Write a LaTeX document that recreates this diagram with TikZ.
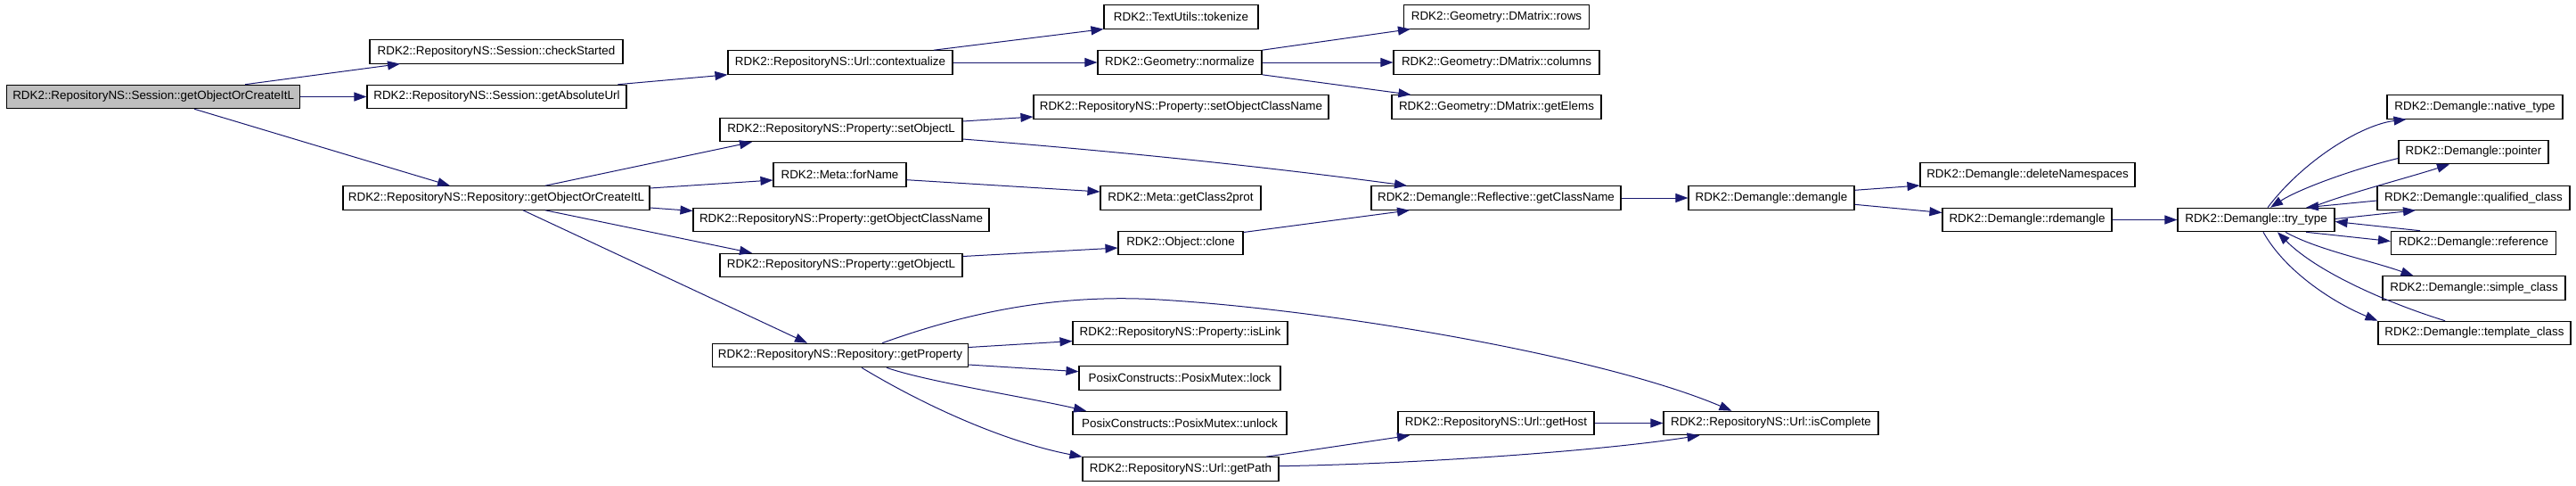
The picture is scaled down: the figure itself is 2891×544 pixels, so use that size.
\documentclass[tikz,border=0pt]{standalone}
\usepackage{fontspec}
\setmainfont{Liberation Sans}
\usetikzlibrary{arrows.meta}
\definecolor{edgeblue}{HTML}{191970}
\definecolor{rootgray}{HTML}{BFBFBF}
\begin{document}
\begin{tikzpicture}[x=1pt,y=-1pt,
  fn/.style={draw=black, line width=1.1pt, rectangle, minimum height=26.5pt, inner sep=2pt,
    font=\fontsize{13.4}{16}\selectfont, text=black},
  rootfn/.style={fn, fill=rootgray},
  e/.style={draw=edgeblue, line width=1.0pt, -{Triangle[length=14pt,width=10pt]}}]
\useasboundingbox (0,0) rectangle (2891,544);
\node[rootfn, minimum width=329pt] (root) at (172.2,108.5) {RDK2::RepositoryNS::Session::getObjectOrCreateItL};
\node[fn, minimum width=284pt] (checkStarted) at (557,57.8) {RDK2::RepositoryNS::Session::checkStarted};
\node[fn, minimum width=291pt] (getAbsUrl) at (557.5,108.5) {RDK2::RepositoryNS::Session::getAbsoluteUrl};
\node[fn, minimum width=344pt] (repoGet) at (557,222) {RDK2::RepositoryNS::Repository::getObjectOrCreateItL};
\node[fn, minimum width=173pt] (tokenize) at (1325.5,18.8) {RDK2::TextUtils::tokenize};
\node[fn, minimum width=252pt] (contextualize) at (943,70) {RDK2::RepositoryNS::Url::contextualize};
\node[fn, minimum width=184pt] (normalize) at (1324,70) {RDK2::Geometry::normalize};
\node[fn, minimum width=331pt] (setObjClassName) at (1325.5,120) {RDK2::RepositoryNS::Property::setObjectClassName};
\node[fn, minimum width=272pt] (setObjectL) at (944,145.5) {RDK2::RepositoryNS::Property::setObjectL};
\node[fn, minimum width=149pt] (forName) at (942.5,196) {RDK2::Meta::forName};
\node[fn, minimum width=180pt] (getClass2prot) at (1325,222) {RDK2::Meta::getClass2prot};
\node[fn, minimum width=332pt] (getObjClassName) at (944,246.5) {RDK2::RepositoryNS::Property::getObjectClassName};
\node[fn, minimum width=140pt] (clone) at (1325,272.5) {RDK2::Object::clone};
\node[fn, minimum width=272pt] (getObjectL) at (944,297.5) {RDK2::RepositoryNS::Property::getObjectL};
\node[fn, minimum width=287pt] (getProperty) at (943,398.5) {RDK2::RepositoryNS::Repository::getProperty};
\node[fn, minimum width=241pt] (isLink) at (1324.5,373.5) {RDK2::RepositoryNS::Property::isLink};
\node[fn, minimum width=226pt] (lock) at (1324,424) {PosixConstructs::PosixMutex::lock};
\node[fn, minimum width=240pt] (unlock) at (1324,474.5) {PosixConstructs::PosixMutex::unlock};
\node[fn, minimum width=220pt] (getPath) at (1325,526) {RDK2::RepositoryNS::Url::getPath};
\node[fn, minimum width=208pt] (rows) at (1679.5,18.8) {RDK2::Geometry::DMatrix::rows};
\node[fn, minimum width=231pt] (columns) at (1679.5,70) {RDK2::Geometry::DMatrix::columns};
\node[fn, minimum width=235pt] (getElems) at (1679.5,120) {RDK2::Geometry::DMatrix::getElems};
\node[fn, minimum width=280pt] (getClassName) at (1679,222) {RDK2::Demangle::Reflective::getClassName};
\node[fn, minimum width=186pt] (demangle) at (1988,222) {RDK2::Demangle::demangle};
\node[fn, minimum width=220pt] (getHost) at (1679,474.5) {RDK2::RepositoryNS::Url::getHost};
\node[fn, minimum width=241pt] (isComplete) at (1987.5,474.5) {RDK2::RepositoryNS::Url::isComplete};
\node[fn, minimum width=241pt] (delNS) at (2275.5,196) {RDK2::Demangle::deleteNamespaces};
\node[fn, minimum width=190pt] (rdemangle) at (2275,246.5) {RDK2::Demangle::rdemangle};
\node[fn, minimum width=176pt] (tryType) at (2532,246.5) {RDK2::Demangle::try\_type};
\node[fn, minimum width=197pt] (nativeType) at (2777.5,120) {RDK2::Demangle::native\_type};
\node[fn, minimum width=168pt] (pointer) at (2776,170.5) {RDK2::Demangle::pointer};
\node[fn, minimum width=216pt] (qualClass) at (2776,222) {RDK2::Demangle::qualified\_class};
\node[fn, minimum width=185pt] (reference) at (2776,272.5) {RDK2::Demangle::reference};
\node[fn, minimum width=205pt] (simpleClass) at (2776.5,323) {RDK2::Demangle::simple\_class};
\node[fn, minimum width=216pt] (templClass) at (2777,373.5) {RDK2::Demangle::template\_class};
% edges
\draw[e] ([xshift=103pt]root.north) -- ([xshift=-108pt]checkStarted.south);
\draw[e] (root.east) -- (getAbsUrl.west);
\draw[e] ([xshift=46pt]root.south) -- ([xshift=-52pt]repoGet.north);
\draw[e] ([xshift=136pt]getAbsUrl.north) -- (contextualize.south west);
\draw[e] ([xshift=105pt]contextualize.north) -- (tokenize.south west);
\draw[e] (contextualize.east) -- (normalize.west);
\draw[e] (normalize.north east) -- ([xshift=8pt]rows.south west);
\draw[e] (normalize.east) -- (columns.west);
\draw[e] (normalize.south east) -- ([xshift=22pt]getElems.north west);
\draw[e] ([xshift=55pt]repoGet.north) -- ([xshift=-100pt]setObjectL.south);
\draw[e] ([yshift=11pt]repoGet.east) -- ([yshift=-6pt]forName.west);
\draw[e] ([yshift=-11pt]repoGet.east) -- ([yshift=10pt]getObjClassName.west);
\draw[e] ([xshift=55pt]repoGet.south) -- ([xshift=-100pt]getObjectL.north);
\draw[e] ([xshift=30pt]repoGet.south) -- ([xshift=-37pt]getProperty.north);
\draw[e] ([yshift=9.5pt]setObjectL.east) -- ([yshift=-11pt]setObjClassName.west);
\draw[e] ([yshift=-10.5pt]setObjectL.east) .. controls (1246,169) and (1413,186) .. ([xshift=-100pt]getClassName.north);
\draw[e] ([yshift=-5.7pt]forName.east) -- ([yshift=7pt]getClass2prot.west);
\draw[e] ([yshift=10pt]getObjectL.east) -- ([yshift=-5.5pt]clone.west);
\draw[e] ([yshift=12pt]clone.east) -- ([xshift=-97pt]getClassName.south);
\draw[e] (getClassName.east) -- (demangle.west);
\draw[e] ([yshift=8.7pt]demangle.east) -- ([yshift=-12pt]delNS.west);
\draw[e] ([yshift=-7.3pt]demangle.east) -- ([yshift=8pt]rdemangle.west);
\draw[e] (rdemangle.east) -- (tryType.west);
\draw[e] ([xshift=13pt]tryType.north) .. controls (2585,180) and (2650,140) .. ([xshift=-77pt]nativeType.south);
\draw[e] ([yshift=-7pt]pointer.west) .. controls (2640,190) and (2580,212) .. ([xshift=16pt]tryType.north);
\draw[e] ([xshift=62pt]tryType.north) .. controls (2630,218) and (2700,200) .. ([xshift=-27pt]pointer.south);
\draw[e] ([yshift=-3pt]qualClass.west) -- ([xshift=56pt]tryType.north);
\draw[e] ([yshift=1pt]tryType.east) -- ([xshift=-65pt]qualClass.south);
\draw[e] ([xshift=-60pt]reference.north) -- ([yshift=-2pt]tryType.east);
\draw[e] ([xshift=56pt]tryType.south) -- ([yshift=2pt]reference.west);
\draw[e] ([xshift=33pt]tryType.south) .. controls (2600,280) and (2660,292) .. ([xshift=-68pt]simpleClass.north);
\draw[e] ([xshift=-33pt]templClass.north) .. controls (2680,340) and (2600,305) .. ([xshift=24pt]tryType.south);
\draw[e] ([xshift=8pt]tryType.south) .. controls (2565,305) and (2620,340) .. (templClass.north west);
\draw[e] ([xshift=47pt]getProperty.north) .. controls (1100,345) and (1200,330) .. (1301,336) .. controls (1500,348) and (1800,400) .. ([xshift=-44pt]isComplete.north);
\draw[e] ([yshift=9pt]getProperty.east) -- ([yshift=-9pt]isLink.west);
\draw[e] ([yshift=-10.5pt]getProperty.east) -- ([yshift=7.3pt]lock.west);
\draw[e] ([xshift=52pt]getProperty.south) .. controls (1040,428) and (1150,445) .. ([xshift=-105pt]unlock.north);
\draw[e] ([xshift=24pt]getProperty.south) .. controls (1047,460.5) and (1135,497) .. (getPath.north west);
\draw[e] ([xshift=96pt]getPath.north) -- ([xshift=-97pt]getHost.south);
\draw[e] ([yshift=3.3pt]getPath.east) .. controls (1600,520) and (1800,505) .. ([xshift=-80pt]isComplete.south);
\draw[e] (getHost.east) -- (isComplete.west);
\end{tikzpicture}
\end{document}
